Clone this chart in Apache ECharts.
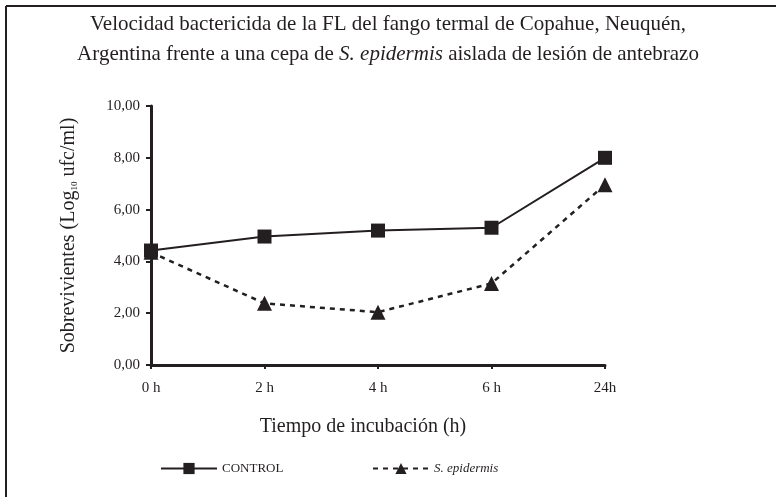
<!DOCTYPE html>
<html>
<head>
<meta charset="utf-8">
<script src="https://cdn.jsdelivr.net/npm/echarts@6/dist/echarts.min.js"></script>
<style>html,body{margin:0;padding:0;background:#fff;}#c{width:776px;height:497px;}</style>
</head>
<body>
<div id="c"></div>
<script>
const categories = ['0 h', '2 h', '4 h', '6 h', '24h'];
const controlValues = [4.42, 4.96, 5.19, 5.30, 8.00];
const epidermisValues = [4.35, 2.38, 2.04, 3.15, 6.96];
const yTicks = { min: 0, max: 10, interval: 2 };

const ink = '#231f20';
const serif = '"Liberation Serif", "DejaVu Serif", serif';

const chart = echarts.init(document.getElementById('c'));
chart.setOption({
  backgroundColor: '#fff',
  animation: false,
  title: {
    text: 'Velocidad bactericida de la FL del fango termal de Copahue, Neuquén,\n{n|Argentina frente a una cepa de }{i|S. epidermis}{n| aislada de lesión de antebrazo}',
    left: 'center',
    top: 4,
    textStyle: {
      fontFamily: serif, fontSize: 21, fontWeight: 'normal', color: ink, lineHeight: 30,
      rich: {
        n: { fontFamily: serif, fontSize: 21, color: ink, lineHeight: 30 },
        i: { fontFamily: serif, fontSize: 21, color: ink, fontStyle: 'italic', lineHeight: 30 }
      }
    }
  },
  grid: { left: 151, right: 171, top: 106, bottom: 132, containLabel: false },
  legend: [
    {
      data: ['CONTROL'], left: 155, top: 457, itemWidth: 56, itemHeight: 14, itemGap: 0,
      textStyle: { fontFamily: serif, fontSize: 13, color: ink }
    },
    {
      data: ['S. epidermis'], left: 367, top: 457, itemWidth: 56, itemHeight: 14, itemGap: 0,
      textStyle: { fontFamily: serif, fontSize: 13, color: ink, fontStyle: 'italic' }
    }
  ],
  xAxis: {
    type: 'category',
    data: categories,
    boundaryGap: false,
    name: 'Tiempo de incubación (h)',
    nameLocation: 'middle',
    nameGap: 52,
    nameTextStyle: { fontFamily: serif, fontSize: 20, color: ink, padding: [0, 30, 0, 0] },
    axisLine: { lineStyle: { color: ink, width: 3 } },
    axisTick: { show: true, length: 4, lineStyle: { color: ink, width: 2 } },
    axisLabel: { fontFamily: serif, fontSize: 15, color: ink, margin: 16 },
    splitLine: { show: false }
  },
  yAxis: {
    type: 'value',
    min: yTicks.min, max: yTicks.max, interval: yTicks.interval,
    name: '{n|Sobrevivientes (Log}{s|10}{n| ufc/ml)}',
    nameLocation: 'middle',
    nameGap: 72,
    nameRotate: 90,
    nameTextStyle: {
      fontFamily: serif, fontSize: 20, color: ink,
      rich: {
        n: { fontFamily: serif, fontSize: 20, color: ink },
        s: { fontFamily: serif, fontSize: 9, color: ink, verticalAlign: 'bottom', padding: [10, 0, 0, 0] }
      }
    },
    axisLine: { show: true, lineStyle: { color: ink, width: 3 } },
    axisTick: { show: true, length: 5, lineStyle: { color: ink, width: 2 } },
    axisLabel: {
      fontFamily: serif, fontSize: 15, color: ink, margin: 11,
      formatter: v => v.toFixed(2).replace('.', ',')
    },
    splitLine: { show: false }
  },
  series: [
    {
      name: 'CONTROL', type: 'line', data: controlValues,
      symbol: 'rect', symbolSize: 14,
      lineStyle: { color: ink, width: 2 },
      itemStyle: { color: ink }
    },
    {
      name: 'S. epidermis', type: 'line', data: epidermisValues,
      symbol: 'triangle', symbolSize: 15,
      lineStyle: { color: ink, width: 2.5, type: [5, 5] },
      itemStyle: { color: ink }
    }
  ],
  graphic: [
    { type: 'line', shape: { x1: 6, y1: 6, x2: 776, y2: 6 }, style: { stroke: ink, lineWidth: 2 } },
    { type: 'line', shape: { x1: 6, y1: 6, x2: 6, y2: 497 }, style: { stroke: ink, lineWidth: 2 } }
  ]
});
</script>
</body>
</html>
